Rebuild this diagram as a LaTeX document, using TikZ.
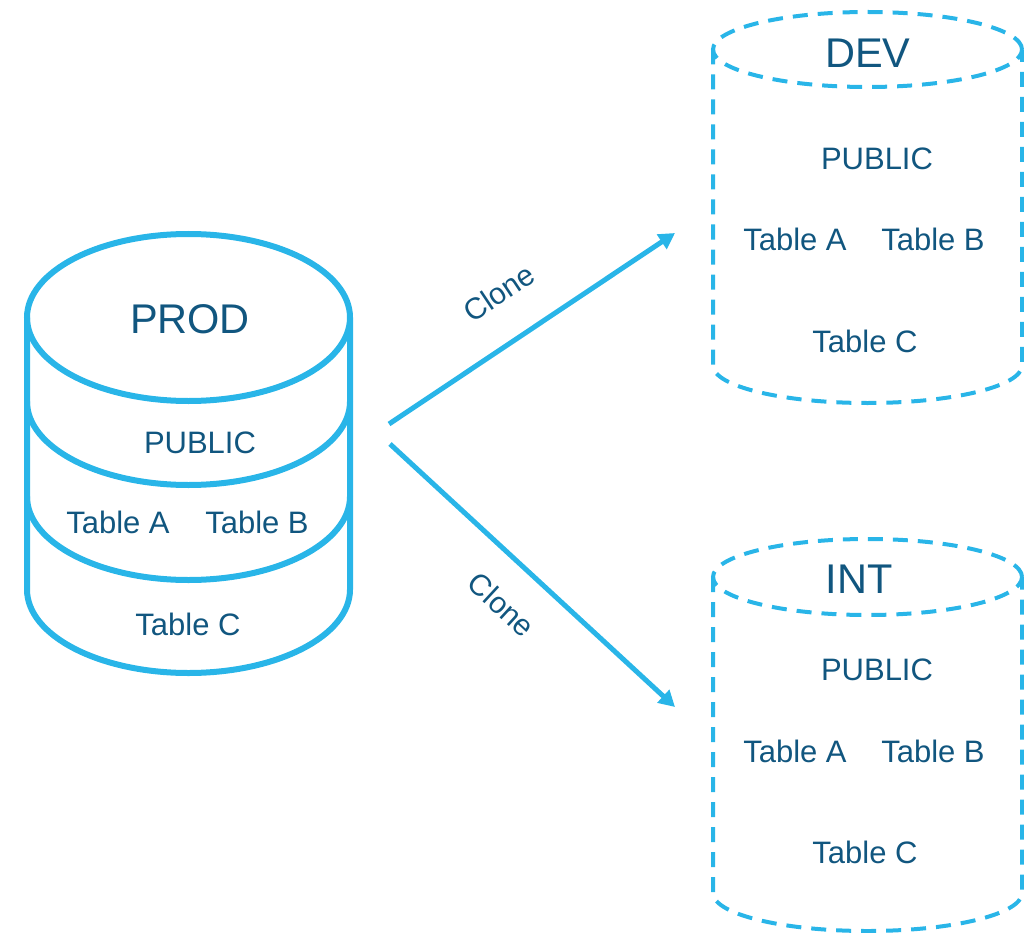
\documentclass[tikz,border=0pt]{standalone}
\usepackage{fontspec}
\setmainfont{Liberation Sans}
\usetikzlibrary{arrows.meta}
\definecolor{sfblue}{HTML}{29B5E8}
\definecolor{sfnavy}{HTML}{11567F}
\begin{document}
\begin{tikzpicture}[x=1pt,y=-1pt,
  solidline/.style={draw=sfblue, line width=6pt},
  dashline/.style={draw=sfblue, line width=4pt, dash pattern=on 15pt off 10pt},
  dbtitle/.style={text=sfnavy, font=\fontsize{41.5}{45}\selectfont, inner sep=0pt, anchor=base},
  dbitem/.style={text=sfnavy, font=\fontsize{31}{34}\selectfont, inner sep=0pt, anchor=base},
  flow/.style={draw=sfblue, line width=5pt, -{Triangle[length=16pt,width=17pt]}},
  flowlabel/.style={text=sfnavy, font=\fontsize{30}{33}\selectfont, inner sep=0pt, sloped}
]
\useasboundingbox (0,0) rectangle (1024,933);

% PROD: solid stacked cylinder
\draw[solidline] (188.5,317.5) ellipse [x radius=161.5pt, y radius=83.5pt];
\draw[solidline] (27,317.5) -- (27,589.5)
  arc[start angle=180, end angle=360, x radius=161.5pt, y radius=83.5pt] -- (350,317.5);
\draw[solidline] (27,401.5) arc[start angle=180, end angle=360, x radius=161.5pt, y radius=83.5pt];
\draw[solidline] (27,496.5) arc[start angle=180, end angle=360, x radius=161.5pt, y radius=83.5pt];
\node[dbtitle] (prod) at (190,333) {PROD};
\node[dbitem] (prod-public) at (200,453) {PUBLIC};
\node[dbitem] (prod-a) at (118,533) {Table A};
\node[dbitem] (prod-b) at (257,533) {Table B};
\node[dbitem] (prod-c) at (188,635) {Table C};

% DEV: dashed cylinder
\draw[dashline] (867.5,49.5) ellipse [x radius=154.5pt, y radius=37.5pt];
\draw[dashline] (713,49.5) -- (713,365.5)
  arc[start angle=180, end angle=360, x radius=154.5pt, y radius=37.5pt] -- (1022,49.5);
\node[dbtitle] (dev) at (868,68) {DEV};
\node[dbitem] (dev-public) at (877,170) {PUBLIC};
\node[dbitem] (dev-a) at (795,250) {Table A};
\node[dbitem] (dev-b) at (933,250) {Table B};
\node[dbitem] (dev-c) at (865,352) {Table C};

% INT: dashed cylinder
\draw[dashline] (867.5,577) ellipse [x radius=154.5pt, y radius=38pt];
\draw[dashline] (713,577) -- (713,893)
  arc[start angle=180, end angle=360, x radius=154.5pt, y radius=38pt] -- (1022,577);
\node[dbtitle] (int) at (859,593) {INT};
\node[dbitem] (int-public) at (877,680) {PUBLIC};
\node[dbitem] (int-a) at (795,762) {Table A};
\node[dbitem] (int-b) at (933,762) {Table B};
\node[dbitem] (int-c) at (865,863) {Table C};

% clone arrows
\coordinate (fork-up) at (389,424);
\coordinate (dev-in) at (675,233);
\coordinate (fork-down) at (390,444);
\coordinate (int-in) at (675,707);
\draw[flow] (fork-up) -- node[flowlabel, pos=0.477, above=34.5pt] (clone-dev) {Clone} (dev-in);
\draw[flow] (fork-down) -- node[flowlabel, pos=0.492, below=29pt] (clone-int) {Clone} (int-in);
\end{tikzpicture}
\end{document}
